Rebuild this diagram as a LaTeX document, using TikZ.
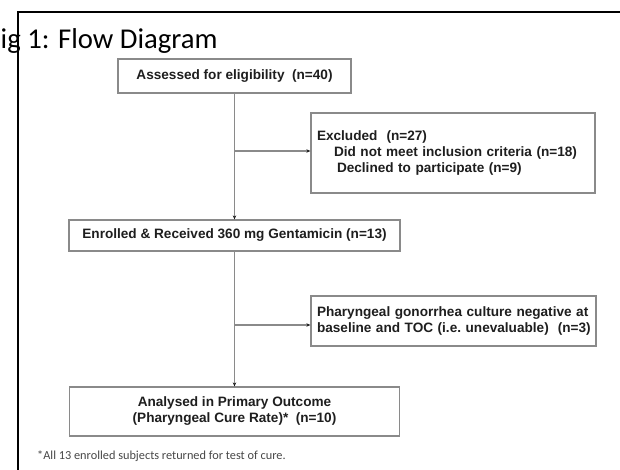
\documentclass[tikz,border=0pt]{standalone}
\usepackage{fontspec}
\setmainfont{Liberation Sans}
\newfontfamily\calfont{Carlito}
\usetikzlibrary{arrows.meta}
\definecolor{boxgray}{HTML}{8A8A8A}
\definecolor{linegray}{HTML}{8A8A8A}
\definecolor{txt}{HTML}{1E1E1E}
\tikzset{
  box/.style={draw=boxgray, line width=1.3pt, inner sep=0pt, text=txt,
    font=\fontsize{13.6}{16}\selectfont\bfseries},
  leftbox/.style={box, align=left, inner xsep=6pt},
  conn/.style={draw=linegray, line width=1.2pt, -{Stealth[length=4pt,width=3.5pt,color=txt]}},
}
\begin{document}
\begin{tikzpicture}[x=1pt,y=-1pt]
\useasboundingbox (0,0) rectangle (620,470);
% frame
\draw[line width=1.5pt, black] (18,472) -- (18,12) -- (622,12);
% title
\node[anchor=base west, inner sep=0pt, font=\calfont\fontsize{28.7}{32}\selectfont, text=black] (title) at (0.5,48.5) {ig 1: Flow Diagram};
% boxes
\node[box, minimum width=233pt, minimum height=34pt, align=center] (assess) at (234.5,76) {Assessed for eligibility\ \ (n=40)};
\node[leftbox, text width=272pt, minimum height=80pt] (excl) at (453,153)
  {\mbox{Excluded\ \ (n=27)}\\\mbox{\hspace*{17pt}Did not meet inclusion\ criteria (n=18)}\\\mbox{\hspace*{20pt}Declined to participate (n=9)}};
\node[box, minimum width=331pt, minimum height=31pt, align=center] (enrol) at (234.5,235.5) {Enrolled \& Received 360 mg Gentamicin (n=13)};
\node[leftbox, text width=273pt, minimum height=50pt] (phar) at (453.5,321)
  {\mbox{Pharyngeal gonorrhea culture negative at}\\\mbox{baseline and TOC (i.e.\ unevaluable)\ \ (n=3)}};
\node[box, minimum width=330pt, minimum height=49pt, align=center] (anal) at (234.5,411.5)
  {Analysed in Primary Outcome\\(Pharyngeal Cure Rate)*\ \ (n=10)};
% connectors
\coordinate (b1) at (234.5,151);
\coordinate (b2) at (234.5,325);
\draw[conn] (assess.south) -- (enrol.north);
\draw[conn] (b1) -- (b1 -| excl.west);
\draw[conn] (enrol.south) -- (anal.north);
\draw[conn] (b2) -- (b2 -| phar.west);
% footnote
\node[anchor=base west, inner sep=0pt, font=\calfont\fontsize{12.3}{14}\selectfont, text=black!72] (note) at (37,459) {*All 13 enrolled subjects returned for test of cure.};
\end{tikzpicture}
\end{document}
